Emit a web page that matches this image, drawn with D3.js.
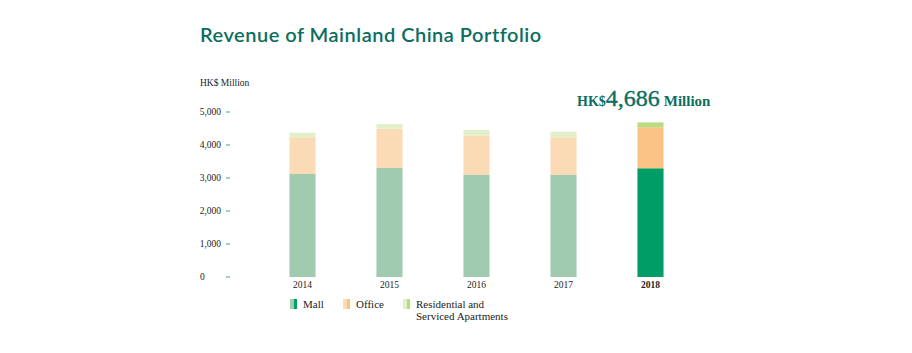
<!DOCTYPE html>
<html>
<head>
<meta charset="utf-8">
<script src="https://cdn.jsdelivr.net/npm/d3@7"></script>
<style>
  body { margin: 0; background: #fff; }
  svg { display: block; }
</style>
</head>
<body>
<div id="chart"></div>
<script>
const years = ["2014", "2015", "2016", "2017", "2018"];
const mall = [3121, 3303, 3091, 3091, 3295];
const office = [1112, 1191, 1191, 1142, 1245];
const residential = [140, 142, 173, 170, 146];
const yTicks = [0, 1000, 2000, 3000, 4000, 5000];
const seriesNames = ["Mall", "Office", "Residential"];

const width = 912, height = 353;

// faded colours for earlier years, full colours for latest year
const fadedColors = { Mall: "#a0cbb0", Office: "#fbdbb5", Residential: "#e3efc8" };
const fullColors = { Mall: "#009e66", Office: "#f8c385", Residential: "#b8dc80" };
const green = "#0b6e5e";

const svg = d3.select("#chart").append("svg")
    .attr("width", width)
    .attr("height", height);

svg.append("text")
    .attr("x", 200).attr("y", 42)
    .attr("font-family", "Lato, sans-serif")
    .attr("font-weight", 600)
    .attr("font-size", "20px")
    .attr("letter-spacing", "0.5px")
    .attr("fill", green)
    .text("Revenue of Mainland China Portfolio");

const x = d3.scaleBand()
    .domain(years)
    .range([259, 694])
    .paddingInner(0.7)
    .paddingOuter(0.35);

const y = d3.scaleLinear()
    .domain([0, 5000])
    .range([277, 112]);

const table = years.map((yr, i) => ({
    year: yr, Mall: mall[i], Office: office[i], Residential: residential[i]
}));
const stack = d3.stack().keys(seriesNames)(table);

const bars = svg.append("g");
stack.forEach(layer => {
    bars.selectAll(null)
        .data(layer)
        .enter().append("rect")
        .attr("x", d => x(d.data.year))
        .attr("width", x.bandwidth())
        .attr("y", d => y(d[1]))
        .attr("height", d => y(d[0]) - y(d[1]))
        .attr("fill", d => d.data.year === "2018" ? fullColors[layer.key] : fadedColors[layer.key]);
});

// y axis: labels and small green dashes
svg.append("text")
    .attr("x", 200).attr("y", 86)
    .attr("font-family", "'Liberation Serif', serif")
    .attr("font-size", "9.5px")
    .attr("fill", "#222")
    .text("HK$ Million");

const yAxis = svg.append("g");
yAxis.selectAll("text")
    .data(yTicks)
    .enter().append("text")
    .attr("x", d => d === 0 ? 200 : 221)
    .attr("y", d => y(d) + 3)
    .attr("text-anchor", d => d === 0 ? "start" : "end")
    .attr("font-family", "'Liberation Serif', serif")
    .attr("font-size", "9.5px")
    .attr("fill", "#222")
    .text(d => d3.format(",")(d));
yAxis.selectAll("line")
    .data(yTicks)
    .enter().append("line")
    .attr("x1", 226).attr("x2", 230)
    .attr("y1", d => y(d)).attr("y2", d => y(d))
    .attr("stroke", "#5bbf80")
    .attr("stroke-width", 1.2);

// x labels
svg.append("g").selectAll("text")
    .data(years)
    .enter().append("text")
    .attr("x", d => x(d) + x.bandwidth() / 2)
    .attr("y", 288)
    .attr("text-anchor", "middle")
    .attr("font-family", "'Liberation Serif', serif")
    .attr("font-size", "9.5px")
    .attr("font-weight", d => d === "2018" ? "bold" : "normal")
    .attr("fill", "#222")
    .text(d => d);

// total annotation
const total = mall[4] + office[4] + residential[4];
const note = svg.append("text")
    .attr("x", 577).attr("y", 106)
    .attr("font-family", "'Liberation Serif', serif")
    .attr("font-weight", "bold")
    .attr("fill", green);
note.append("tspan").attr("font-size", "14px").text("HK$");
note.append("tspan").attr("font-size", "24px").attr("font-weight", "normal")
    .attr("stroke", green).attr("stroke-width", 0.4)
    .text(d3.format(",")(total));
note.append("tspan").attr("font-size", "15px").attr("dx", 4).text("Million");

// legend
const legendItems = [
    { key: "Mall", x: 290, lines: ["Mall"] },
    { key: "Office", x: 343, lines: ["Office"] },
    { key: "Residential", x: 403, lines: ["Residential and", "Serviced Apartments"] }
];
const legend = svg.append("g");
legendItems.forEach(item => {
    legend.append("rect")
        .attr("x", item.x).attr("y", 299)
        .attr("width", 4).attr("height", 10)
        .attr("fill", fadedColors[item.key]);
    legend.append("rect")
        .attr("x", item.x + 4).attr("y", 299)
        .attr("width", 3).attr("height", 10)
        .attr("fill", fullColors[item.key]);
    const t = legend.append("text")
        .attr("x", item.x + 13).attr("y", 307.5)
        .attr("font-family", "'Liberation Serif', serif")
        .attr("font-size", "11px")
        .attr("fill", "#222");
    item.lines.forEach((ln, i) => {
        t.append("tspan").attr("x", item.x + 13).attr("dy", i === 0 ? 0 : 12.5).text(ln);
    });
});
</script>
</body>
</html>
